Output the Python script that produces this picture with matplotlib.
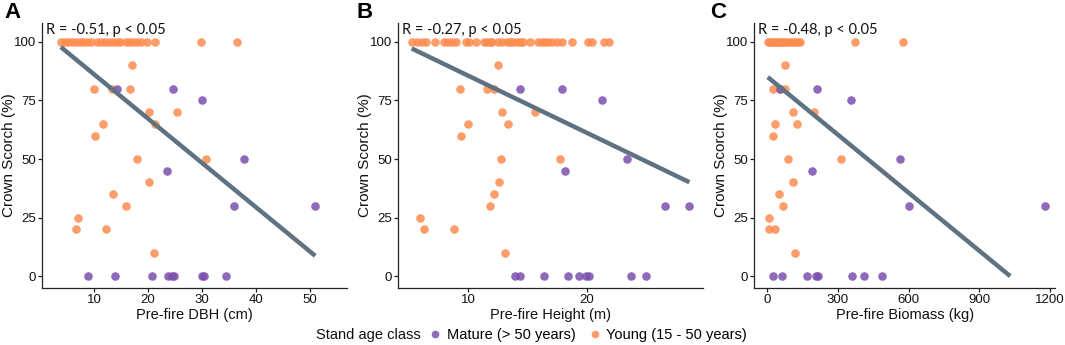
import numpy as np
import matplotlib
matplotlib.use("Agg")
import matplotlib.pyplot as plt
from matplotlib.lines import Line2D

plt.rcParams['font.family'] = ['Liberation Sans', 'DejaVu Sans']

# ---------------- data ----------------
# Panel A: Pre-fire DBH (cm)
young_dbh = [3.8, 4.5, 5.2, 5.9, 6.6, 7.3, 8.0, 8.7, 9.4, 10.5, 11.3, 12.0, 12.8, 13.5, 14.2,
             14.8, 15.8, 16.5, 17.2, 18.0, 18.7, 19.8, 21.2, 29.8, 36.4,
             17.05, 10.0, 13.2, 16.6, 20.2, 25.3, 11.7, 21.3, 10.1, 17.9, 30.8, 20.1, 13.5,
             15.9, 7.0, 6.7, 12.2, 21.0]
young_dbh_cs = [100] * 25 + [90, 80, 80, 80, 70, 70, 65, 65, 60, 50, 50, 40, 35, 30, 25, 20, 20, 10]
mature_dbh = [14.3, 24.6, 30.0, 37.8, 23.5, 36.0, 51.0, 8.8, 13.8, 20.8, 23.6, 24.5, 24.8, 30.0, 30.4, 34.4]
mature_dbh_cs = [80, 80, 75, 50, 45, 30, 30, 0, 0, 0, 0, 0, 0, 0, 0, 0]

# Panel B: Pre-fire Height (m)
young_h = [5.21, 5.63, 6.06, 6.39, 7.18, 7.97, 8.31, 8.65, 8.93, 9.80, 10.06, 10.62, 11.35, 11.58,
           11.8, 12.03, 12.54, 12.87, 13.24, 13.52, 13.8, 14.08, 14.37, 14.65, 15.21, 15.92,
           16.2, 16.48, 16.76, 17.04, 17.46, 17.89, 18.73, 20.14, 20.48, 21.49, 21.92,
           12.48, 9.32, 11.58, 12.2, 12.87, 15.66, 10.0, 13.38, 9.41, 12.76, 17.75, 12.6,
           12.2, 11.8, 5.92, 6.23, 8.79, 13.1]
young_h_cs = [100] * 37 + [90, 80, 80, 80, 70, 70, 65, 65, 60, 50, 50, 40, 35, 30, 25, 20, 20, 10]
mature_h = [14.37, 17.94, 21.32, 23.41, 18.14, 26.59, 28.68, 13.95, 14.37, 16.40, 18.43, 19.36,
            19.95, 20.2, 23.73, 24.99]
mature_h_cs = [80, 80, 75, 50, 45, 30, 30, 0, 0, 0, 0, 0, 0, 0, 0, 0]

# Panel C: Pre-fire Biomass (kg)
young_bm = [2, 10, 18, 25, 32, 40, 48, 55, 63, 72, 80, 90, 100, 110, 120, 130, 138, 372, 574,
            76, 23, 75, 55, 110, 198, 34, 126, 24, 89, 313, 108, 50, 67, 8, 7, 33, 119]
young_bm_cs = [100] * 19 + [90, 80, 80, 80, 70, 70, 65, 65, 60, 50, 50, 40, 35, 30, 25, 20, 20, 10]
mature_bm = [55, 212, 354, 563, 188, 600, 1180, 25, 61, 170, 208, 215, 360, 411, 487]
mature_bm_cs = [80, 80, 75, 50, 45, 30, 30, 0, 0, 0, 0, 0, 0, 0, 0]

# fitted regression lines (intercept, slope) and correlation labels
fit_dbh = (104.9, -1.886)
fit_h = (109.8, -2.43)
fit_bm = (85.1, -0.0825)
labels_r = ["R = -0.51, p < 0.05", "R = -0.27, p < 0.05", "R = -0.48, p < 0.05"]

xlabels = ["Pre-fire DBH (cm)", "Pre-fire Height (m)", "Pre-fire Biomass (kg)"]
xticks = [[10, 20, 30, 40, 50], [10, 20], [0, 300, 600, 900, 1200]]
xlims = [(0.3, 56.9), (4.08, 29.83), (-55, 1221)]
yticks = [0, 25, 50, 75, 100]
panel_letters = ["A", "B", "C"]

ORANGE = "#FD8C50"
PURPLE = "#7B50AE"
LINE = "#5E7282"

W, H = 1065, 345
fig = plt.figure(figsize=(W / 100, H / 100), dpi=100)

axes_px = [(42, 347), (398.3, 703), (754.3, 1055)]
top_px, bot_px = 23, 288
letter_x = [4, 356, 710]

panels = [
    (young_dbh, young_dbh_cs, mature_dbh, mature_dbh_cs, fit_dbh),
    (young_h, young_h_cs, mature_h, mature_h_cs, fit_h),
    (young_bm, young_bm_cs, mature_bm, mature_bm_cs, fit_bm),
]

for i, (yx, yy, mx, my, fit) in enumerate(panels):
    l, r = axes_px[i]
    ax = fig.add_axes([l / W, 1 - bot_px / H, (r - l) / W, (bot_px - top_px) / H])
    ax.scatter(yx, yy, s=38, color=ORANGE, alpha=0.85, linewidths=0, zorder=2)
    ax.scatter(mx, my, s=38, color=PURPLE, alpha=0.85, linewidths=0, zorder=2)
    allx = np.array(list(yx) + list(mx))
    xs = np.linspace(allx.min(), allx.max(), 80)
    ys = fit[0] + fit[1] * xs
    keep = ys >= 0
    ax.plot(xs[keep], ys[keep], color=LINE, lw=3.2, solid_capstyle='butt', zorder=3)
    ax.set_xlim(*xlims[i])
    ax.set_ylim(-5, 108)
    ax.set_xticks(xticks[i])
    ax.set_yticks(yticks)
    for s in ['top', 'right']:
        ax.spines[s].set_visible(False)
    for s in ['left', 'bottom']:
        ax.spines[s].set_linewidth(0.9)
        ax.spines[s].set_color('#222222')
    ax.tick_params(axis='both', length=3, width=0.9, color='#222222', labelsize=9.5,
                   labelcolor='#111111', pad=1.5)
    ax.set_xlabel(xlabels[i], fontsize=10.5, labelpad=1.5, color='#111111')
    ax.set_ylabel("Crown Scorch (%)", fontsize=11, color='#111111')
    ax.yaxis.label.set_verticalalignment('center')
    ax.yaxis.set_label_coords(-33 / (r - l), 0.5)
    ax.text(0.012, 105, labels_r[i], transform=ax.get_yaxis_transform(), ha='left', va='center',
            fontsize=10.5, family=['Lato', 'DejaVu Sans'], color='#111111')
    fig.text(letter_x[i] / W, 1 - 12 / H, panel_letters[i], fontsize=16, fontweight='bold',
             ha='left', va='center')

# legend
fig.text(316 / W, 1 - 335 / H, "Stand age class", fontsize=10.5, ha='left', va='center',
         color='#111111')
handles = [Line2D([], [], marker='o', ls='', color=PURPLE, alpha=0.85, markersize=5.5, markeredgewidth=0),
           Line2D([], [], marker='o', ls='', color=ORANGE, alpha=0.85, markersize=5.5, markeredgewidth=0)]
fig.legend(handles, ["Mature (> 50 years)", "Young (15 - 50 years)"], ncol=2, frameon=False,
           loc='center left', bbox_to_anchor=(428 / W, 1 - 335 / H), fontsize=10.5,
           handlelength=1.0, handletextpad=0.3, columnspacing=0.8, borderaxespad=0, borderpad=0)

fig.savefig("out.png", dpi=100)
